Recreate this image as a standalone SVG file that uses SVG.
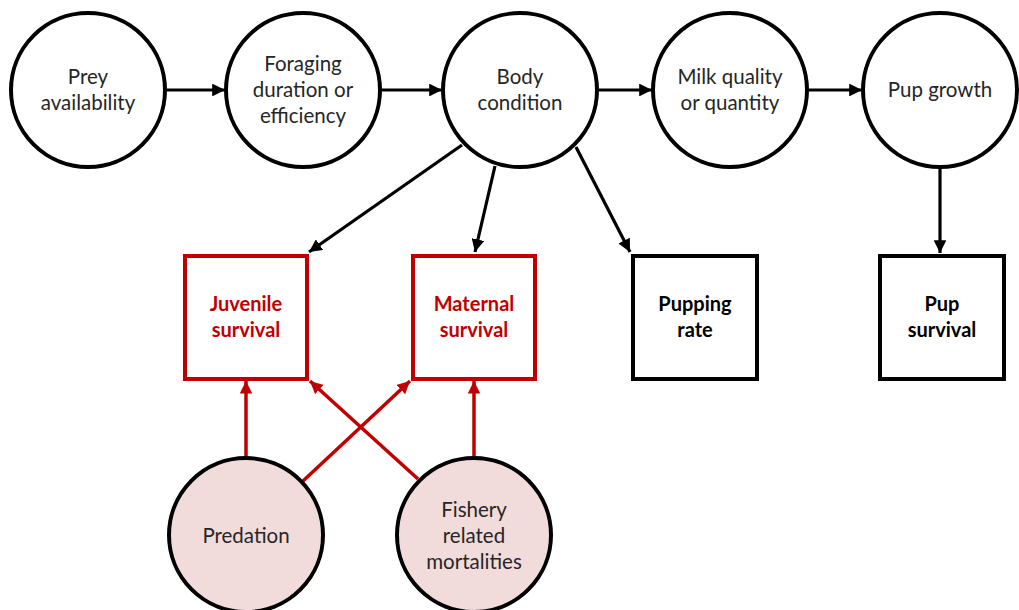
<svg xmlns="http://www.w3.org/2000/svg" width="1019" height="610" viewBox="0 0 1019 610">
  <defs>
    <style>
      .node-c { fill: #ffffff; stroke: #000000; stroke-width: 4; }
      .node-p { fill: #f2dcdb; stroke: #000000; stroke-width: 4; }
      .box-k { fill: #ffffff; stroke: #000000; stroke-width: 4; }
      .box-r { fill: #ffffff; stroke: #c00000; stroke-width: 4; }
      .lbl { font-family: Lato, "Open Sans", "Liberation Sans", sans-serif; font-size: 20.5px; fill: #262626; text-anchor: middle; }
      .blbl { font-family: Lato, "Open Sans", "Liberation Sans", sans-serif; font-size: 20px; font-weight: bold; fill: #000000; text-anchor: middle; }
      .blbl.red { fill: #c00000; }
      .edge-k { stroke: #000000; stroke-width: 3.2; fill: none; marker-end: url(#ahK); }
      .edge-r { stroke: #c00000; stroke-width: 3.5; fill: none; marker-end: url(#ahR); }
    </style>
    <marker id="ahK" viewBox="0 0 10 10" refX="10" refY="5" markerWidth="4" markerHeight="4" markerUnits="strokeWidth" orient="auto">
      <path d="M0,0 L10,5 L0,10 Z" fill="#000000"/>
    </marker>
    <marker id="ahR" viewBox="0 0 10 10" refX="10" refY="5" markerWidth="3.6" markerHeight="3.6" markerUnits="strokeWidth" orient="auto">
      <path d="M0,0 L10,5 L0,10 Z" fill="#c00000"/>
    </marker>
  </defs>

  <g id="connectors">
    <line class="edge-k" x1="166" y1="90" x2="225" y2="90"/>
    <line class="edge-k" x1="381" y1="90" x2="442" y2="90"/>
    <line class="edge-k" x1="598" y1="90" x2="652" y2="90"/>
    <line class="edge-k" x1="808" y1="90" x2="862" y2="90"/>
    <line class="edge-k" x1="462" y1="145" x2="309" y2="252"/>
    <line class="edge-k" x1="495" y1="166" x2="475" y2="252"/>
    <line class="edge-k" x1="576" y1="147" x2="630" y2="252"/>
    <line class="edge-k" x1="940" y1="168" x2="940" y2="253"/>
    <line class="edge-r" x1="246" y1="457" x2="246" y2="381"/>
    <line class="edge-r" x1="303" y1="481" x2="410" y2="381"/>
    <line class="edge-r" x1="418" y1="479" x2="310" y2="381"/>
    <line class="edge-r" x1="474" y1="457" x2="474" y2="381"/>
  </g>

  <g id="prey">
    <circle class="node-c" cx="88" cy="90" r="77"/>
    <text class="lbl" x="88" y="84">Prey</text>
    <text class="lbl" x="88" y="110">availability</text>
  </g>
  <g id="foraging">
    <circle class="node-c" cx="303" cy="90" r="77"/>
    <text class="lbl" x="303" y="71">Foraging</text>
    <text class="lbl" x="303" y="97">duration or</text>
    <text class="lbl" x="303" y="123">efficiency</text>
  </g>
  <g id="body">
    <circle class="node-c" cx="520" cy="90" r="77"/>
    <text class="lbl" x="520" y="84">Body</text>
    <text class="lbl" x="520" y="110">condition</text>
  </g>
  <g id="milk">
    <circle class="node-c" cx="730" cy="90" r="77"/>
    <text class="lbl" x="730" y="84">Milk quality</text>
    <text class="lbl" x="730" y="110">or quantity</text>
  </g>
  <g id="growth">
    <circle class="node-c" cx="940" cy="90" r="77"/>
    <text class="lbl" x="940" y="97">Pup growth</text>
  </g>

  <g id="juvenile">
    <rect class="box-r" x="185" y="256" width="122" height="123"/>
    <text class="blbl red" x="246" y="311">Juvenile</text>
    <text class="blbl red" x="246" y="337">survival</text>
  </g>
  <g id="maternal">
    <rect class="box-r" x="413" y="256" width="122" height="123"/>
    <text class="blbl red" x="474" y="311">Maternal</text>
    <text class="blbl red" x="474" y="337">survival</text>
  </g>
  <g id="pupping">
    <rect class="box-k" x="633" y="256" width="124" height="123"/>
    <text class="blbl" x="695" y="311">Pupping</text>
    <text class="blbl" x="695" y="337">rate</text>
  </g>
  <g id="pupsurv">
    <rect class="box-k" x="880" y="256" width="124" height="123"/>
    <text class="blbl" x="942" y="311">Pup</text>
    <text class="blbl" x="942" y="337">survival</text>
  </g>

  <g id="predation">
    <circle class="node-p" cx="246" cy="535" r="77"/>
    <text class="lbl" x="246" y="543">Predation</text>
  </g>
  <g id="fishery">
    <circle class="node-p" cx="474" cy="535" r="77"/>
    <text class="lbl" x="474" y="517">Fishery</text>
    <text class="lbl" x="474" y="543">related</text>
    <text class="lbl" x="474" y="569">mortalities</text>
  </g>
</svg>
